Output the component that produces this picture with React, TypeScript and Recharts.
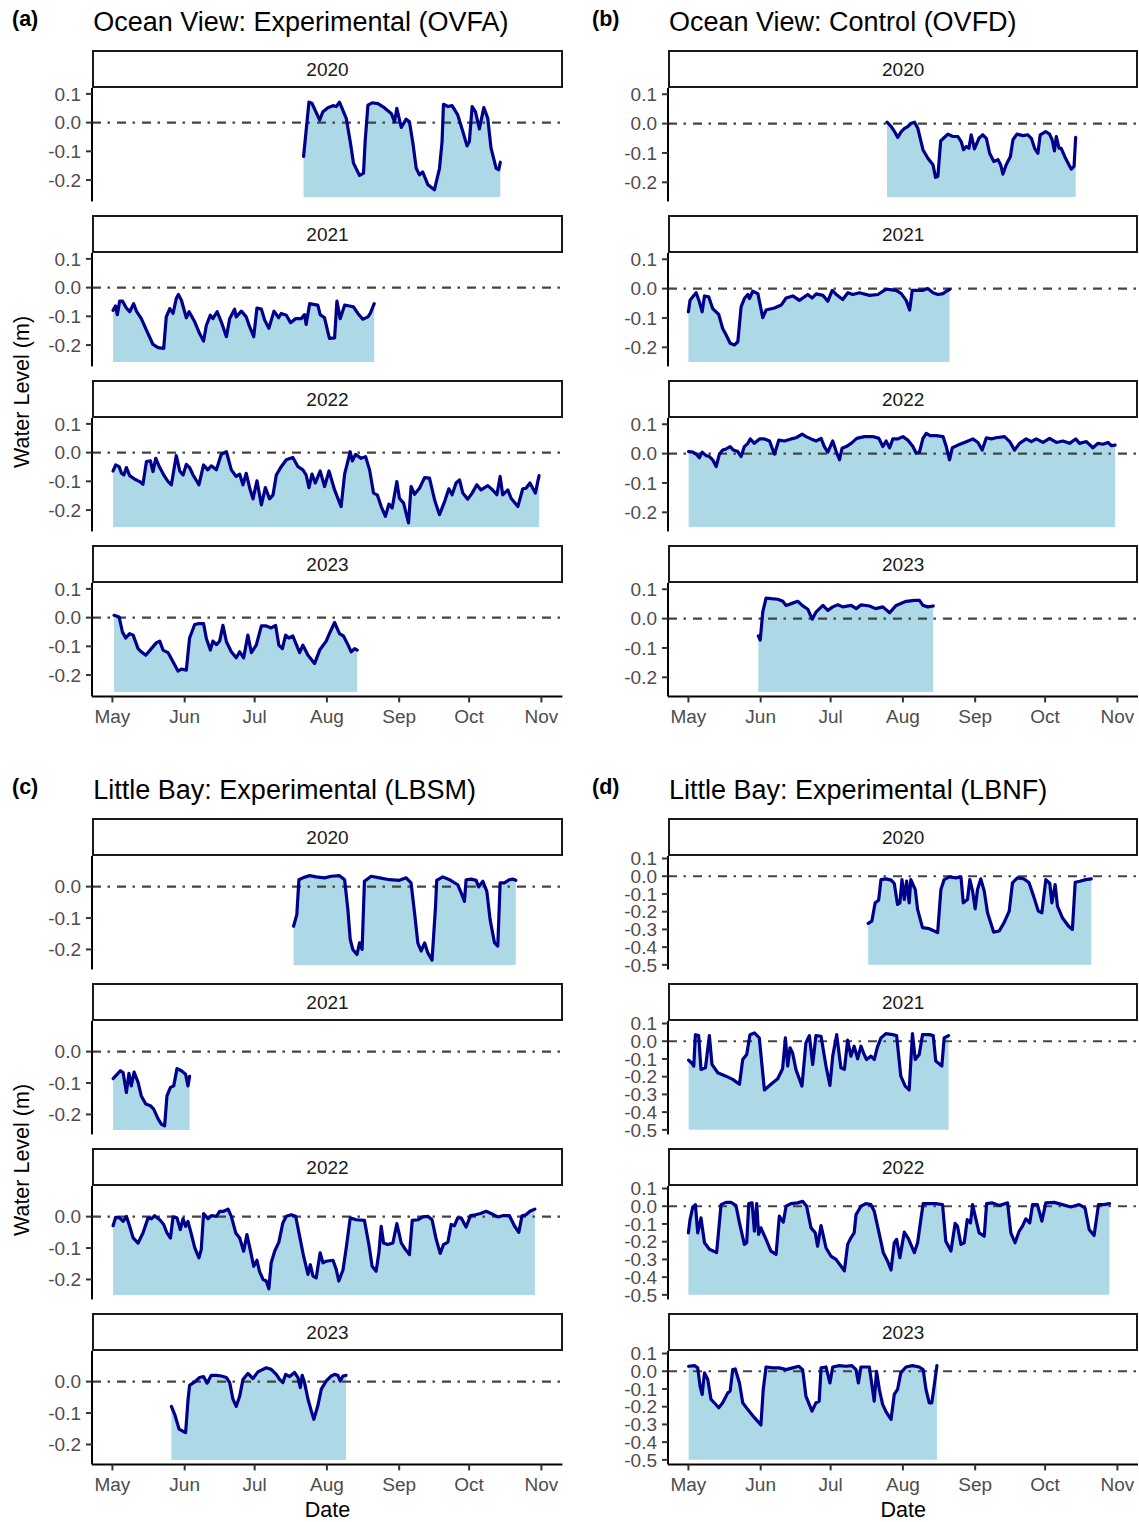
import { ComposedChart, Area, Line, XAxis, YAxis, ReferenceLine } from "recharts";

// days counted from May 1, water level in metres
const monthTicks = [0, 31, 61, 92, 123, 153, 184];
const monthLabels = ["May", "Jun", "Jul", "Aug", "Sep", "Oct", "Nov"];
const years = ["2020", "2021", "2022", "2023"];

type Pt = [number, number];

const ovfa2020: Pt[] = [[82,-0.118],[84.3,0.071],[85.6,0.067],[88.9,0.009],[90.3,0.038],[92.4,0.052],[94.6,0.059],[96,0.056],[97.4,0.071],[100.3,0.015],[102,-0.066],[103.4,-0.141],[106,-0.184],[107.7,-0.176],[108.4,-0.066],[109.6,0.061],[111.4,0.069],[113.9,0.066],[116.6,0.052],[119.6,0.032],[121,0.003],[122,0.05],[123.9,-0.017],[126,0.012],[127.4,0.003],[128.9,-0.072],[130.3,-0.159],[131.7,-0.182],[133.1,-0.172],[135.3,-0.216],[138.1,-0.234],[140.3,-0.159],[141.4,-0.066],[142,0.064],[143.9,0.056],[145.7,0.059],[148.1,0.027],[150.3,-0.031],[152.1,-0.081],[153.1,-0.066],[154.3,0.056],[155.7,0.038],[157.4,-0.022],[159.3,0.052],[161,0.015],[162.4,-0.089],[164.6,-0.159],[165.7,-0.164],[166.4,-0.138]];
const ovfa2021: Pt[] = [[0.3,-0.079],[1.3,-0.064],[2.1,-0.094],[3.1,-0.047],[4.3,-0.047],[6,-0.071],[7.4,-0.084],[9.1,-0.056],[10.3,-0.082],[12.4,-0.108],[14.6,-0.148],[17.4,-0.198],[19.6,-0.209],[22,-0.212],[23.1,-0.102],[24.6,-0.073],[26,-0.09],[27.4,-0.038],[28.3,-0.024],[29.6,-0.044],[31.7,-0.105],[32.9,-0.084],[35.3,-0.119],[37.4,-0.16],[39.1,-0.186],[40.3,-0.131],[42,-0.096],[43.1,-0.108],[44.9,-0.084],[46.7,-0.119],[48.9,-0.171],[50.3,-0.108],[52.4,-0.075],[53.1,-0.102],[55.3,-0.082],[57.4,-0.102],[58.9,-0.137],[60.6,-0.171],[62,-0.071],[63.9,-0.075],[65.3,-0.113],[67.1,-0.142],[69.3,-0.082],[71.3,-0.105],[72.4,-0.09],[74.6,-0.096],[76.4,-0.122],[78.6,-0.108],[81,-0.108],[82.4,-0.094],[83.1,-0.128],[84.6,-0.056],[86.7,-0.059],[88.1,-0.061],[89.1,-0.094],[91,-0.105],[92.4,-0.154],[93.1,-0.177],[95.3,-0.175],[96.3,-0.047],[97.7,-0.108],[99.6,-0.061],[101.7,-0.064],[103.4,-0.067],[105.3,-0.09],[107.4,-0.11],[109.6,-0.102],[110.6,-0.09],[112.3,-0.056]];
const ovfa2022: Pt[] = [[0.3,-0.064],[1.4,-0.043],[2.9,-0.049],[3.9,-0.072],[4.9,-0.078],[6,-0.052],[7.4,-0.08],[9.6,-0.093],[11.7,-0.101],[13.1,-0.11],[14.6,-0.031],[16.3,-0.029],[17.4,-0.066],[18.6,-0.02],[20.3,-0.052],[22.4,-0.083],[23.9,-0.101],[25.3,-0.112],[27.4,-0.01],[28.9,-0.064],[30.3,-0.078],[31.7,-0.041],[33.1,-0.052],[34.6,-0.078],[37.1,-0.112],[39.1,-0.043],[40.9,-0.06],[42.4,-0.046],[44.6,-0.06],[46.7,-0.006],[48.9,0.003],[51,-0.06],[53.1,-0.083],[54.6,-0.075],[56,-0.112],[57.4,-0.072],[58.9,-0.124],[60.3,-0.161],[62,-0.098],[63.9,-0.182],[65.6,-0.122],[67.4,-0.161],[68.9,-0.147],[70.3,-0.078],[72.4,-0.049],[74.6,-0.025],[77.4,-0.017],[79.6,-0.049],[81.7,-0.06],[83.1,-0.078],[84.3,-0.122],[85.6,-0.075],[87,-0.106],[89.1,-0.064],[91,-0.118],[92.9,-0.064],[95.3,-0.13],[98.1,-0.188],[99.6,-0.075],[102,0.003],[102.9,-0.029],[104.3,-0.006],[106.7,-0.02],[108.6,-0.014],[110.3,-0.06],[112,-0.141],[113.6,-0.147],[115.3,-0.188],[117.1,-0.222],[118.6,-0.179],[120,-0.193],[122,-0.101],[123.1,-0.159],[124.9,-0.176],[127,-0.245],[128.1,-0.118],[129.6,-0.145],[131.7,-0.124],[133.9,-0.087],[136,-0.089],[138.3,-0.168],[140.3,-0.216],[142.6,-0.168],[144.3,-0.126],[145.7,-0.147],[147.4,-0.106],[148.9,-0.095],[150.3,-0.141],[152.4,-0.162],[154.3,-0.141],[156.3,-0.112],[158.1,-0.13],[161,-0.115],[163.1,-0.13],[164.9,-0.147],[166.3,-0.083],[167.4,-0.147],[169.6,-0.13],[171,-0.159],[173.9,-0.188],[176,-0.126],[177.4,-0.124],[179.1,-0.106],[181.4,-0.141],[183,-0.08]];
const ovfa2023: Pt[] = [[0.7,0.008],[2.9,0.002],[4.3,-0.05],[5.7,-0.071],[7.4,-0.056],[8.9,-0.061],[11,-0.108],[12.4,-0.119],[14.3,-0.131],[16.7,-0.108],[18.9,-0.087],[20.3,-0.082],[21.7,-0.113],[23.9,-0.122],[26,-0.154],[28.1,-0.186],[29.6,-0.179],[31.7,-0.183],[33.1,-0.071],[35.3,-0.024],[37.1,-0.021],[39.1,-0.021],[40.3,-0.073],[42,-0.113],[43.1,-0.082],[44.6,-0.094],[46,-0.082],[47.4,-0.027],[48.9,-0.084],[51,-0.119],[53.1,-0.14],[54.6,-0.119],[56.3,-0.14],[58.1,-0.061],[59.6,-0.122],[61.7,-0.096],[63.9,-0.029],[66,-0.029],[68.1,-0.036],[70,-0.027],[71.4,-0.096],[72.9,-0.108],[74.3,-0.061],[75.7,-0.071],[77.4,-0.064],[78.9,-0.094],[80.3,-0.122],[81.7,-0.096],[83.9,-0.131],[86.7,-0.16],[88.9,-0.113],[91.7,-0.082],[93.4,-0.05],[95.3,-0.017],[97.4,-0.056],[99.1,-0.064],[101,-0.094],[102.4,-0.119],[103.9,-0.108],[105,-0.113]];

const ovfd2020: Pt[] = [[85.2,0.005],[87,-0.01],[88.4,-0.027],[89.8,-0.047],[91.3,-0.027],[92.7,-0.016],[94.1,-0.01],[95.6,0.001],[97,0.005],[98.4,-0.016],[100.6,-0.089],[102.7,-0.118],[104.9,-0.14],[106,-0.183],[107,-0.18],[108.2,-0.059],[109.4,-0.05],[111.3,-0.036],[113.4,-0.044],[115.6,-0.044],[117,-0.061],[118,-0.089],[119.2,-0.078],[120.3,-0.084],[121.3,-0.038],[122.7,-0.086],[124.6,-0.05],[126.3,-0.038],[127.8,-0.05],[129.2,-0.101],[131,-0.129],[132.8,-0.123],[133.9,-0.14],[134.9,-0.172],[136.3,-0.14],[138.1,-0.112],[139.2,-0.055],[140.9,-0.036],[143.5,-0.041],[145.6,-0.038],[147.1,-0.05],[148.5,-0.084],[149.9,-0.101],[150.9,-0.038],[153.2,-0.027],[154.9,-0.036],[156,-0.055],[157,-0.093],[157.8,-0.044],[159,-0.084],[159.9,-0.084],[161.4,-0.112],[162.8,-0.134],[164.2,-0.155],[165.4,-0.146],[166.1,-0.047]];
const ovfd2021: Pt[] = [[0,-0.079],[0.7,-0.04],[1.9,-0.028],[3.3,-0.014],[4.7,-0.045],[5.9,-0.079],[6.9,-0.025],[8.7,-0.028],[10.4,-0.068],[13,-0.088],[14.7,-0.136],[16.2,-0.158],[17.9,-0.186],[19.7,-0.192],[21.2,-0.181],[22.6,-0.062],[24,-0.034],[25.5,-0.02],[26.2,-0.034],[27.6,-0.009],[29.8,-0.017],[31.9,-0.099],[33.3,-0.073],[36.9,-0.066],[39.8,-0.056],[41.9,-0.032],[44.8,-0.025],[47.6,-0.04],[51.2,-0.02],[53.1,-0.032],[54.8,-0.018],[57.7,-0.023],[59.8,-0.043],[61.7,-0.006],[63.4,-0.02],[66.2,-0.037],[68.4,-0.014],[70.5,-0.02],[73.4,-0.014],[77.7,-0.023],[81.3,-0.02],[84.8,-0.002],[89.1,-0.006],[91.3,-0.017],[93.4,-0.04],[94.9,-0.073],[96,-0.006],[98.4,-0.006],[100.6,-0.006],[102.7,0],[104.9,-0.014],[107,-0.02],[109.2,-0.017],[110.6,-0.009],[112,-0.003]];
const ovfd2022: Pt[] = [[0.1,0.007],[1.9,0.005],[3.3,-0.002],[4.7,-0.014],[5.9,0.005],[7.6,-0.007],[9,-0.01],[10.4,-0.021],[11.9,-0.044],[13.3,-0.002],[14.7,0.012],[16.2,0.016],[17.9,0.024],[19.3,0.012],[21.2,0.007],[22.6,-0.01],[24,0.024],[25.5,0.035],[26.5,0.05],[28.3,0.035],[30.5,0.05],[32.6,0.05],[34.8,0.043],[36.9,-0.002],[38.8,0.046],[41.2,0.043],[44.1,0.05],[46.2,0.054],[48.8,0.066],[50.5,0.058],[52.6,0.05],[54.8,0.043],[56.9,0.052],[58.3,0.024],[59.8,0.005],[61.9,0.043],[63.4,0.007],[64.8,-0.021],[65.9,0.018],[67.7,0.024],[69.8,0.035],[72.2,0.052],[75.5,0.058],[79.1,0.058],[81.7,0.052],[83.4,0.024],[84.8,0.043],[86.3,0.02],[87.7,0.05],[89.8,0.05],[92,0.058],[94.1,0.046],[96.3,0.024],[97.7,0.001],[99.1,0.005],[100.6,0.052],[102,0.069],[103.7,0.061],[106.3,0.061],[109.2,0.058],[110.6,0.024],[112,-0.021],[113.2,0.02],[115.6,0.029],[118.4,0.038],[122,0.05],[124.2,0.038],[126,0.012],[127.8,0.054],[129.9,0.05],[132,0.054],[135.6,0.058],[137.8,0.041],[139.9,0.012],[142,0.035],[144.9,0.05],[147.1,0.041],[149.2,0.05],[152.1,0.038],[154.9,0.052],[157.8,0.038],[160.6,0.043],[163.5,0.035],[166.1,0.05],[167.8,0.035],[170.7,0.041],[173.5,0.02],[175.7,0.035],[177.8,0.032],[180,0.038],[181.4,0.027],[183,0.029]];
const ovfd2023: Pt[] = [[30,-0.059],[30.8,-0.073],[31.9,0.023],[33.3,0.07],[35.5,0.068],[38.3,0.066],[40.5,0.059],[41.9,0.045],[44.1,0.051],[46.9,0.059],[48.8,0.045],[51.2,0.032],[53.1,-0.002],[54.8,0.023],[57.7,0.045],[59.8,0.028],[61.9,0.04],[64.1,0.047],[66.2,0.04],[69.8,0.045],[72,0.034],[74.1,0.047],[77.7,0.043],[80.3,0.034],[83.4,0.04],[86.3,0.02],[89.1,0.045],[93.4,0.059],[97,0.062],[99.1,0.062],[100.6,0.045],[102.7,0.04],[105,0.043]];

const lbsm2020: Pt[] = [[77.7,-0.126],[79.1,-0.089],[80,0.022],[81.7,0.028],[84.6,0.035],[87.4,0.031],[91,0.028],[93.9,0.033],[97.4,0.035],[99.6,0.022],[101,-0.073],[102,-0.168],[103.1,-0.2],[104.9,-0.216],[106,-0.179],[107.1,-0.2],[108.1,0.017],[111,0.033],[114.6,0.028],[118.9,0.022],[123.1,0.02],[126,0.028],[128.1,0.012],[129.6,-0.084],[131,-0.179],[132.4,-0.205],[133.9,-0.179],[135.3,-0.211],[137.1,-0.234],[138.6,-0.062],[139.1,0.02],[141.7,0.031],[144.6,0.022],[148.1,0.006],[149.6,-0.02],[151,-0.047],[151.7,0.022],[153.9,0.024],[156,0.02],[157.1,-0.001],[158.9,0.017],[160.6,-0.015],[162,-0.105],[163.9,-0.179],[165.3,-0.189],[166.3,0.012],[168.1,0.012],[170.3,0.022],[171.7,0.024],[173,0.02]];
const lbsm2021: Pt[] = [[0.3,-0.086],[1.7,-0.075],[3.4,-0.061],[4.6,-0.067],[6,-0.13],[7.1,-0.069],[8.1,-0.109],[9.3,-0.065],[11,-0.098],[12.4,-0.141],[14.3,-0.167],[16.3,-0.172],[17.7,-0.183],[19.6,-0.214],[21,-0.231],[22.4,-0.236],[23.4,-0.141],[24.9,-0.114],[26.3,-0.109],[27.7,-0.054],[29.6,-0.061],[31.4,-0.072],[32.4,-0.109],[33.1,-0.079]];
const lbsm2022: Pt[] = [[0.3,-0.029],[1.4,-0.002],[3.1,-0.004],[4.6,-0.015],[6,0.001],[7.4,-0.031],[8.9,-0.068],[11,-0.084],[13.1,-0.052],[15.3,-0.004],[16.7,-0.007],[18.1,0.003],[20.3,-0.01],[22,-0.025],[23.4,-0.052],[24.9,-0.068],[26,-0.001],[27.7,-0.004],[29.1,-0.041],[30.3,-0.007],[31.4,-0.031],[32.4,-0.015],[33.9,-0.057],[35.3,-0.099],[37.1,-0.131],[38.1,-0.105],[39.1,0.01],[41,-0.007],[42.4,0.003],[44.6,0.001],[46,0.017],[47.7,0.017],[49.6,0.024],[51,0.001],[52.9,-0.052],[54.6,-0.068],[56.3,-0.11],[57.7,-0.057],[59.1,-0.105],[60.6,-0.158],[62,-0.139],[63.1,-0.174],[64.6,-0.2],[66,-0.205],[67.1,-0.23],[68.1,-0.147],[69.6,-0.11],[71.4,-0.081],[73.1,-0.02],[74.6,0.001],[76.7,0.006],[78.6,0.001],[80.3,-0.062],[82,-0.126],[83.9,-0.184],[84.9,-0.153],[86,-0.189],[87.4,-0.195],[89.1,-0.115],[90.3,-0.147],[91.7,-0.142],[94.6,-0.139],[96,-0.168],[97.1,-0.205],[98.9,-0.17],[100.3,-0.099],[102,-0.004],[104.6,-0.01],[108.1,-0.012],[110,-0.089],[111.4,-0.158],[113.1,-0.174],[114.3,-0.115],[115.3,-0.031],[116.3,-0.084],[118.1,-0.089],[120.3,-0.084],[122,-0.022],[123.9,-0.084],[125.7,-0.105],[127.4,-0.121],[128.6,-0.012],[131,-0.01],[133.1,-0.001],[135.3,0.001],[137.1,-0.01],[138.9,-0.073],[140.6,-0.117],[142,-0.089],[143.9,-0.081],[145.3,-0.025],[146.7,-0.029],[148.1,-0.004],[149.6,-0.004],[151.7,-0.033],[153.6,0.003],[155.7,0.006],[157.9,0.01],[160.3,0.017],[162.4,0.01],[165.3,-0.001],[167.4,0.003],[170.3,0.003],[172.4,-0.029],[174.3,-0.05],[175.7,0.003],[177.4,0.006],[179.1,0.017],[181.2,0.024]];
const lbsm2023: Pt[] = [[25.3,-0.079],[26.7,-0.104],[28.6,-0.151],[30,-0.157],[31.4,-0.162],[32.4,-0.061],[33.1,-0.012],[35.3,-0.001],[37.4,0.013],[39.1,0.016],[40.6,-0.005],[42.4,0.02],[44.6,0.02],[46.7,0.018],[48.9,0.013],[50.3,-0.003],[51.7,-0.056],[53.1,-0.079],[54.6,-0.046],[56,0.007],[58.1,0.026],[60.3,0.01],[62.4,0.031],[66,0.044],[68.1,0.039],[70.3,0.023],[71.7,0.007],[73.1,-0.003],[74.3,0.023],[76,0.016],[78.1,0.029],[79.6,0.013],[80.6,-0.019],[81.4,0.02],[82.4,-0.003],[83.9,-0.056],[85.3,-0.093],[86.4,-0.12],[88.1,-0.077],[89.6,-0.024],[91.7,0.002],[93.9,0.018],[95.3,0.023],[96.7,0.02],[97.7,0.002],[98.9,0.018],[100.2,0.02]];

const lbnf2020: Pt[] = [[77.1,-0.266],[78.7,-0.253],[80.1,-0.15],[81.6,-0.135],[82.6,-0.019],[84.7,-0.015],[87,-0.022],[88.3,-0.041],[89.7,-0.159],[90.7,-0.15],[91.6,-0.019],[92.6,-0.131],[93.6,-0.028],[94.7,-0.15],[95.4,-0.019],[97.3,-0.075],[98.3,-0.187],[100.4,-0.29],[103.3,-0.296],[106.9,-0.318],[108.3,-0.075],[109.7,-0.019],[111.9,-0.004],[114.7,-0.009],[116.9,-0.004],[117.9,-0.15],[119.7,-0.131],[120.7,-0.019],[121.9,-0.084],[123,-0.184],[124,-0.075],[125.4,-0.015],[126.9,-0.084],[128.3,-0.206],[130.9,-0.315],[133.3,-0.309],[135.4,-0.262],[137.6,-0.197],[139,-0.037],[141.1,-0.009],[144,-0.015],[146.1,-0.037],[148.3,-0.122],[150.1,-0.197],[151.6,-0.206],[153.3,-0.019],[155,-0.041],[155.9,-0.15],[157.3,-0.047],[158.3,-0.169],[160.4,-0.234],[163,-0.281],[164.7,-0.3],[165.9,-0.034],[167.9,-0.028],[170.4,-0.019],[172.8,-0.015]];
const lbnf2021: Pt[] = [[0.1,-0.107],[1.6,-0.125],[2.3,-0.14],[3,0.037],[4.4,0.032],[5.4,-0.159],[7.3,-0.15],[9,0.032],[10.1,-0.131],[12.6,-0.178],[16.1,-0.197],[19,-0.215],[21.9,-0.243],[23.3,-0.103],[25,-0.075],[26.4,0.037],[28.3,0.047],[30.4,0.019],[32.6,-0.275],[35.4,-0.243],[38.3,-0.212],[40.4,-0.155],[41.6,0.019],[42.6,-0.14],[43.6,-0.037],[44.7,-0.066],[46.1,-0.159],[48.7,-0.253],[50.4,-0.009],[51.9,0.032],[53.3,-0.131],[54.7,0.032],[56.9,0.028],[59,-0.14],[60.7,-0.249],[61.9,-0.084],[63.6,0.037],[65.4,-0.15],[66.9,-0.159],[68.3,0.006],[69.7,-0.084],[71.1,-0.028],[72.6,-0.099],[74,-0.028],[75.4,-0.075],[76.4,-0.103],[78.3,-0.084],[79.7,-0.103],[81.1,-0.032],[82.6,0.019],[84.7,0.043],[87.6,0.037],[89.3,0.032],[91.1,-0.197],[93,-0.253],[94.7,-0.275],[96.1,0.043],[97.3,-0.103],[99,-0.075],[100.4,0.037],[103.3,0.037],[105,0.032],[106.1,-0.112],[108.7,-0.14],[109.7,0.019],[111.6,0.032]];
const lbnf2022: Pt[] = [[0,-0.15],[0.7,-0.075],[1.9,-0.004],[3,0.009],[4,-0.15],[5.4,-0.066],[6.9,-0.206],[9,-0.243],[12.1,-0.262],[14,0.009],[16.1,0.022],[18.3,0.022],[20.4,0.004],[21.9,-0.094],[24,-0.215],[25,-0.206],[25.9,0.015],[27.3,0.019],[28.3,-0.14],[29.3,0.015],[30.1,-0.159],[31.1,-0.122],[33.3,-0.187],[35.4,-0.253],[37.6,-0.272],[39,-0.056],[40.7,-0.09],[41.9,0],[44,0.015],[46.9,0.019],[49,0.028],[50.7,0],[52.6,-0.122],[54.4,-0.15],[55.4,-0.225],[56.9,-0.109],[59,-0.234],[61.1,-0.281],[63.3,-0.3],[65.4,-0.337],[66.9,-0.365],[68.3,-0.215],[69.7,-0.178],[71.1,-0.15],[71.9,-0.047],[74,0],[76.1,0.015],[78.3,0.009],[79.7,-0.028],[81.6,-0.14],[83.6,-0.262],[85.4,-0.309],[86.9,-0.36],[88.3,-0.206],[89.3,-0.187],[90.7,-0.29],[92.6,-0.146],[94.4,-0.184],[96.9,-0.262],[98.3,-0.206],[99.7,-0.075],[100.7,0.015],[103.3,0.015],[106.1,0.015],[109,0.009],[110.4,-0.197],[112.6,-0.253],[114.4,-0.097],[115.4,-0.112],[116.9,-0.215],[118.3,-0.206],[119.6,-0.075],[121,-0.094],[121.9,0.009],[123,-0.056],[124.7,-0.15],[126.9,-0.169],[127.9,0.015],[130.4,0.019],[133.3,0.004],[136.9,0.019],[138.3,-0.15],[140.1,-0.206],[141.9,-0.14],[143.3,-0.112],[144.7,-0.071],[146.4,-0.094],[147.6,0.009],[149.7,0.009],[151.6,-0.084],[153.3,0.019],[156.9,0.022],[160.4,0.009],[164,-0.004],[167.6,0.009],[170.1,-0.009],[171.9,-0.131],[174,-0.165],[175.9,0.009],[178.3,0.009],[180.6,0.015]];
const lbnf2023: Pt[] = [[0.1,0.028],[2.6,0.032],[4,0.019],[5,-0.084],[5.9,-0.131],[6.9,-0.009],[8.3,-0.047],[9.7,-0.159],[11.1,-0.178],[13,-0.206],[14.7,-0.178],[16.9,-0.122],[17.9,-0.112],[19,0.009],[20.1,0.013],[21.9,-0.066],[23.3,-0.178],[25.4,-0.215],[28.3,-0.262],[31.1,-0.303],[32.1,-0.103],[33.3,0.024],[36.1,0.019],[39,0.019],[41.9,0.009],[44.7,0.019],[47.3,0.028],[49,0.009],[50.4,-0.14],[53,-0.225],[54.7,-0.178],[56.1,-0.169],[56.9,0.019],[59,0.024],[60.7,-0.066],[61.9,0.024],[64.7,0.032],[67.6,0.028],[70.1,0.032],[71.9,0.009],[72.9,-0.066],[74,0.024],[77.6,0.024],[79,-0.103],[79.7,-0.169],[80.7,0],[81.9,-0.103],[83.3,-0.187],[85,-0.234],[86.9,-0.272],[88.3,-0.131],[89.7,-0.103],[91.1,-0.009],[93.3,0.024],[96.1,0.032],[99,0.024],[100.7,0.009],[101.9,-0.103],[103.3,-0.178],[104.4,-0.178],[105.4,-0.084],[106.6,0.032]];

const ticksSmall = [0.1, 0, -0.1, -0.2];
const ticksLbsm = [0, -0.1, -0.2];
const ticksLbnf = [0.1, 0, -0.1, -0.2, -0.3, -0.4, -0.5];

const X_DOMAIN: [number, number] = [-8.75, 193];
const PLOT_W = 470.4;
const PLOT_H = 113.4;
const STRIP_H = 38;
const PITCH = 165;
const AXIS_W = 70;
const PAD = 14; // room above/below the plot so edge tick labels are not clipped
const FONT = "'Liberation Sans', Arial, Helvetica, sans-serif";

type PanelDef = {
  tag: string;
  tagLeft: number;
  title: string;
  left: number;
  top: number;
  series: Pt[][];
  yDomain: [number, number];
  yTicks: number[];
  base: number;
  dateTitle: boolean;
  yTitle: boolean;
};

const panels: PanelDef[] = [
  { tag: "(a)", tagLeft: 12, title: "Ocean View: Experimental (OVFA)", left: 92.3, top: 50.3, series: [ovfa2020, ovfa2021, ovfa2022, ovfa2023], yDomain: [-0.2743, 0.1205], yTicks: ticksSmall, base: -0.259, dateTitle: false, yTitle: true },
  { tag: "(b)", tagLeft: 592, title: "Ocean View: Control (OVFD)", left: 668, top: 50.3, series: [ovfd2020, ovfd2021, ovfd2022, ovfd2023], yDomain: [-0.265, 0.1213], yTicks: ticksSmall, base: -0.25, dateTitle: false, yTitle: false },
  { tag: "(c)", tagLeft: 12, title: "Little Bay: Experimental (LBSM)", left: 92.3, top: 818.3, series: [lbsm2020, lbsm2021, lbsm2022, lbsm2023], yDomain: [-0.2635, 0.0975], yTicks: ticksLbsm, base: -0.2495, dateTitle: true, yTitle: true },
  { tag: "(d)", tagLeft: 592, title: "Little Bay: Experimental (LBNF)", left: 668, top: 818.3, series: [lbnf2020, lbnf2021, lbnf2022, lbnf2023], yDomain: [-0.5256, 0.1142], yTicks: ticksLbnf, base: -0.5, dateTitle: true, yTitle: false },
];

function Facet({ pts, year, left, top, yDomain, yTicks, base, showX }: {
  pts: Pt[]; year: string; left: number; top: number; yDomain: [number, number]; yTicks: number[]; base: number; showX: boolean;
}) {
  const data = pts.map(([day, level]) => ({ day, level }));
  const bottom = showX ? 0 : PAD;
  return (
    <>
      <div
        style={{
          position: "absolute", left, top, width: PLOT_W, height: STRIP_H, boxSizing: "border-box",
          border: "2px solid #1a1a1a", background: "#fff", display: "flex", alignItems: "center",
          justifyContent: "center", fontSize: 19, color: "#1a1a1a", paddingTop: 2,
        }}
      >
        {year}
      </div>
      <div style={{ position: "absolute", left: left - AXIS_W, top: top + STRIP_H - PAD }}>
        <ComposedChart
          width={AXIS_W + PLOT_W}
          height={PLOT_H + PAD + bottom + (showX ? 40 : 0)}
          data={data}
          margin={{ top: PAD, right: 0, bottom, left: 0 }}
          style={{ overflow: "visible" }}
        >
          <XAxis
            type="number" dataKey="day" domain={X_DOMAIN} ticks={monthTicks} allowDataOverflow hide={!showX} height={40}
            tickFormatter={(v: number) => monthLabels[monthTicks.indexOf(v)]}
            tick={{ fill: "#4d4d4d", fontSize: 19 }} tickSize={6} tickMargin={7}
            axisLine={{ stroke: "#000", strokeWidth: 2 }} tickLine={{ stroke: "#333", strokeWidth: 2 }}
          />
          <YAxis
            type="number" domain={yDomain} ticks={yTicks} allowDataOverflow width={AXIS_W} interval={0}
            tickFormatter={(v: number) => v.toFixed(1)}
            tick={{ fill: "#4d4d4d", fontSize: 19 }} tickSize={6} tickMargin={5}
            axisLine={{ stroke: "#000", strokeWidth: 2 }} tickLine={{ stroke: "#333", strokeWidth: 2 }}
          />
          <Area dataKey="level" type="linear" stroke="none" fill="#ADD8E6" fillOpacity={1} baseValue={base} isAnimationActive={false} />
          <ReferenceLine y={0} stroke="#444" strokeWidth={2.2} strokeDasharray="9 6.5 2.5 7" />
          <Line
            dataKey="level" type="linear" stroke="#00008B" strokeWidth={3.2} strokeLinejoin="round" strokeLinecap="round"
            dot={false} activeDot={false} isAnimationActive={false}
          />
        </ComposedChart>
      </div>
    </>
  );
}

export default function App() {
  return (
    <div style={{ position: "absolute", left: 0, top: 0, width: 1139, height: 1522, background: "#fff", fontFamily: FONT, overflow: "hidden" }}>
      {panels.map((p) => (
        <div key={p.tag}>
          <div style={{ position: "absolute", left: p.tagLeft, top: p.top - 41, fontSize: 21.5, fontWeight: "bold", lineHeight: 1 }}>{p.tag}</div>
          <div style={{ position: "absolute", left: p.left + 1, top: p.top - 41, fontSize: 27, lineHeight: 1, whiteSpace: "nowrap", color: "#000" }}>{p.title}</div>
          {p.series.map((s, i) => (
            <Facet
              key={years[i]} pts={s} year={years[i]} left={p.left} top={p.top + i * PITCH}
              yDomain={p.yDomain} yTicks={p.yTicks} base={p.base} showX={i === 3}
            />
          ))}
          {p.yTitle && (
            <div style={{ position: "absolute", left: 22, top: p.top + 342, transform: "translate(-50%, -50%) rotate(-90deg)", fontSize: 21.5, whiteSpace: "nowrap" }}>
              Water Level (m)
            </div>
          )}
          {p.dateTitle && (
            <div style={{ position: "absolute", left: p.left + PLOT_W / 2, top: p.top + 3 * PITCH + STRIP_H + PLOT_H + 35, transform: "translateX(-50%)", fontSize: 21.5, lineHeight: 1 }}>
              Date
            </div>
          )}
        </div>
      ))}
    </div>
  );
}
